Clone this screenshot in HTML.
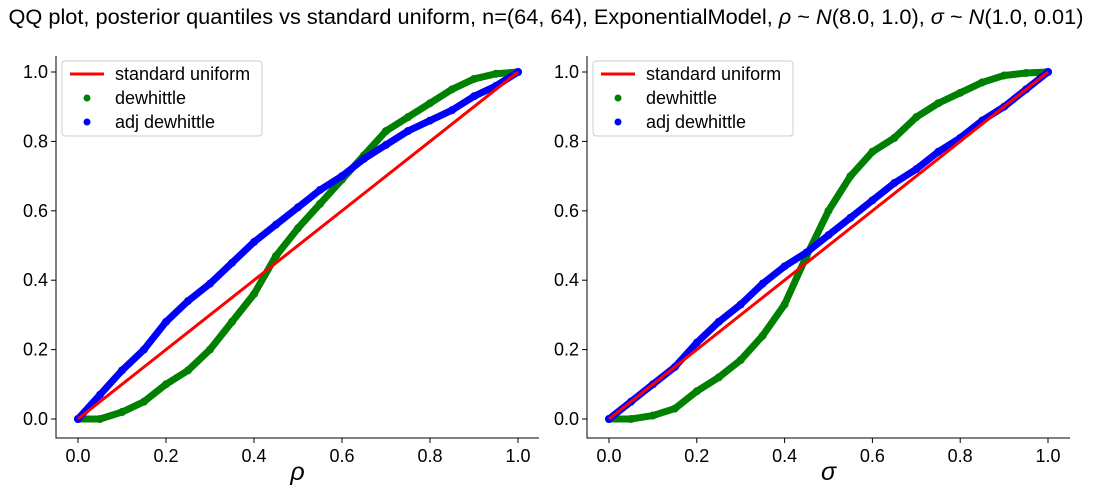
<!DOCTYPE html>
<html><head><meta charset="utf-8"><style>
body{margin:0;background:#fff;}
svg text{font-family:"Liberation Sans","DejaVu Sans",sans-serif;}
</style></head><body>
<svg id="chart" width="1093" height="491" xmlns="http://www.w3.org/2000/svg">
<text x="546" y="24" font-size="21" text-anchor="middle" textLength="1075" lengthAdjust="spacingAndGlyphs">QQ plot, posterior quantiles vs standard uniform, n=(64, 64), ExponentialModel, <tspan font-style="italic">ρ</tspan> ~ <tspan font-style="italic">N</tspan>(8.0, 1.0), <tspan font-style="italic">σ</tspan> ~ <tspan font-style="italic">N</tspan>(1.0, 0.01)</text>
</svg>
<script>
const quantiles = [0,0.05,0.1,0.15,0.2,0.25,0.3,0.35,0.4,0.45,0.5,0.55,0.6,0.65,0.7,0.75,0.8,0.85,0.9,0.95,1];
const rhoDewhittle = [0,0.0,0.02,0.05,0.10,0.14,0.2,0.28,0.36,0.47,0.55,0.62,0.69,0.76,0.83,0.87,0.91,0.95,0.98,0.995,1];
const rhoAdj = [0,0.07,0.14,0.2,0.28,0.34,0.39,0.45,0.51,0.56,0.61,0.66,0.7,0.75,0.79,0.83,0.86,0.89,0.93,0.96,1];
const sigmaDewhittle = [0,0.0,0.01,0.03,0.08,0.12,0.17,0.24,0.33,0.47,0.6,0.7,0.77,0.81,0.87,0.91,0.94,0.97,0.99,0.997,1];
const sigmaAdj = [0,0.05,0.1,0.15,0.22,0.28,0.33,0.39,0.44,0.48,0.53,0.58,0.63,0.68,0.72,0.77,0.81,0.86,0.9,0.95,1];
const ticks = [0,0.2,0.4,0.6,0.8,1.0];
const tickLabels = ["0.0","0.2","0.4","0.6","0.8","1.0"];

const svg = document.getElementById('chart');
const NS = 'http://www.w3.org/2000/svg';
function mk(tag, attrs, parent){const e=document.createElementNS(NS,tag);for(const k in attrs)e.setAttribute(k,attrs[k]);(parent||svg).appendChild(e);return e;}

function panel(x0, x1, left, right, label, green, blue, key){
  const y0=419, y1=72, top=56, bottom=438;
  const sx=v=>x0+(x1-x0)*v, sy=v=>y0+(y1-y0)*v;
  const g=mk('g',{});
  
  
  const ax=mk('path',{d:`M${left},${top}V${bottom}H${right}`,fill:'none',stroke:'#000','stroke-width':1},g);
  
  
  ticks.forEach((t,i)=>{
    mk('line',{x1:sx(t),x2:sx(t),y1:bottom,y2:bottom+5,stroke:'#000'},g);
    const tx=mk('text',{x:sx(t),y:bottom+24,'font-size':18,'text-anchor':'middle'},g);tx.textContent=tickLabels[i];
    
    
    mk('line',{x1:left-5,x2:left,y1:sy(t),y2:sy(t),stroke:'#000'},g);
    const ty=mk('text',{x:left-8,y:sy(t)+6,'font-size':18,'text-anchor':'end'},g);ty.textContent=tickLabels[i];
    
    
  });
  const xl=mk('text',{x:(left+right)/2,y:480,'font-size':25,'font-style':'italic','text-anchor':'middle'},g);xl.textContent=label;
  
  
  const series=[[green,'#008000','dewhittle'],[blue,'#0000ff','adj-dewhittle']];
  series.forEach(([arr,col,nm])=>{
    const d=arr.map((v,i)=>(i?'L':'M')+sx(quantiles[i])+','+sy(v)).join('');
    const p=mk('path',{d:d,fill:'none',stroke:col,'stroke-width':7,'stroke-linejoin':'round','stroke-linecap':'round'},g);
    
    
    arr.forEach((v,i)=>{const c=mk('circle',{cx:sx(quantiles[i]),cy:sy(v),r:4,fill:col},g);
      
      });
  });
  const ref=mk('line',{x1:sx(0),y1:sy(0),x2:sx(1),y2:sy(1),stroke:'#ff0000','stroke-width':3},g);
  
  
  const lg=mk('g',{},g);
  
  
  const lx=left+6;
  mk('rect',{x:lx,y:61,width:200,height:75,rx:3,fill:'#fff','fill-opacity':0.8,stroke:'#ccc'},lg);
  mk('line',{x1:lx+8,x2:lx+42,y1:74,y2:74,stroke:'#ff0000','stroke-width':3},lg);
  mk('circle',{cx:lx+25,cy:98,r:3.5,fill:'#008000'},lg);
  mk('circle',{cx:lx+25,cy:122,r:3.5,fill:'#0000ff'},lg);
  [['standard uniform',80],['dewhittle',104],['adj dewhittle',128]].forEach(([t,y])=>{
    const e=mk('text',{x:lx+53,y:y,'font-size':18},lg);e.textContent=t;
    
    
  });
}
panel(78,518,56,539,'ρ',rhoDewhittle,rhoAdj,'rho');
panel(609,1048,587,1070,'σ',sigmaDewhittle,sigmaAdj,'sigma');
</script>
</body></html>
